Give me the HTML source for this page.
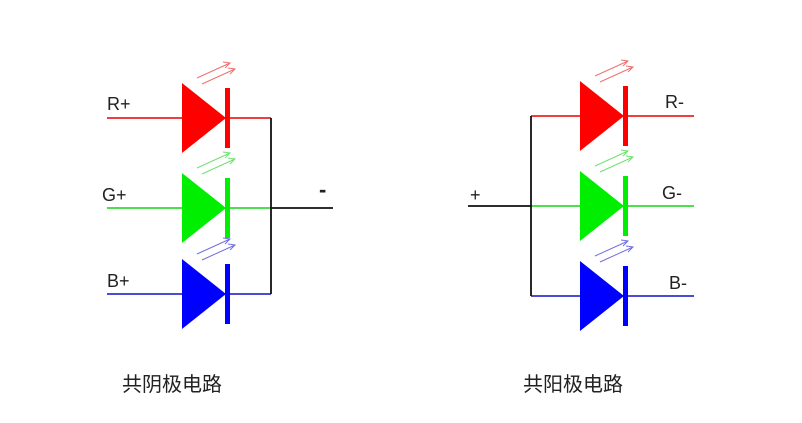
<!DOCTYPE html>
<html><head><meta charset="utf-8"><style>
html,body{margin:0;padding:0;background:#fff;}
svg{display:block;}
text{font-family:"Liberation Sans","Noto Sans CJK SC",sans-serif;}
</style></head><body>
<svg id="c" width="802" height="423" viewBox="0 0 802 423">
<g id="g"></g>
<text x="107" y="110" font-size="18" fill="#222">R+</text>
<text x="102" y="201" font-size="18" fill="#222">G+</text>
<text x="107" y="287" font-size="18" fill="#222">B+</text>
<text x="319" y="197" font-size="22" font-weight="bold" fill="#222">-</text>
<text x="665" y="108" font-size="18" fill="#222">R-</text>
<text x="662" y="199" font-size="18" fill="#222">G-</text>
<text x="669" y="289" font-size="18" fill="#222">B-</text>
<text x="470" y="201" font-size="18" fill="#222">+</text>
<text x="122" y="391" font-size="20" fill="#222">共阴极电路</text>
<text x="523" y="391" font-size="20" fill="#222">共阳极电路</text>
</svg>
<script>
const diodes=["#ff0000","#00ee00","#0000ff"];
const wireColors=["#ee2222","#33dd33","#3333cc"];
const arrowColors=["#f07070","#70e070","#7070e0"];
const cathodeRows=[118,208,294];
const anodeRows=[116,206,296];
const leftX=182, rightX=580, cathodeBus=271, anodeBus=531;
const ns="http://www.w3.org/2000/svg";
const g=document.getElementById('g');
function el(t,a){const e=document.createElementNS(ns,t);for(const k in a)e.setAttribute(k,a[k]);g.appendChild(e);return e;}
function diode(x,y,i,side){
  const col=diodes[i];
  const tri=el('polygon',{points:`${x},${y-35} ${x},${y+35} ${x+44},${y}`,fill:col});
  
  
  const bar=el('rect',{x:x+43,y:y-30,width:5,height:60,fill:col});
  
  
  [[15,-40,48,-55],[20,-34,53,-49]].forEach(a=>{
    const x1=x+a[0],y1=y+a[1],x2=x+a[2],y2=y+a[3];
    const p=el('path',{d:`M${x1},${y1}L${x2},${y2}M${x2-7},${y2-1}L${x2},${y2}L${x2-5},${y2+5}`,stroke:arrowColors[i],'stroke-width':1,fill:'none'});
    
    
  });
}
cathodeRows.forEach((y,i)=>{
  const w=el('path',{d:`M107,${y}H${leftX}M${leftX+44},${y}H${cathodeBus}`,stroke:wireColors[i],'stroke-width':1.8,fill:'none'});
  
  
  diode(leftX,y,i,'cathode');
});
const b1=el('path',{d:`M${cathodeBus},${cathodeRows[0]}V${cathodeRows[2]}M${cathodeBus},${cathodeRows[1]}H333`,stroke:'#111','stroke-width':1.8,fill:'none'});


anodeRows.forEach((y,i)=>{
  const w=el('path',{d:`M${anodeBus},${y}H${rightX}M${rightX+44},${y}H694`,stroke:wireColors[i],'stroke-width':1.8,fill:'none'});
  
  
  diode(rightX,y,i,'anode');
});
const b2=el('path',{d:`M${anodeBus},${anodeRows[0]}V${anodeRows[2]}M468,${anodeRows[1]}H${anodeBus}`,stroke:'#111','stroke-width':1.8,fill:'none'});


</script>
</body></html>
